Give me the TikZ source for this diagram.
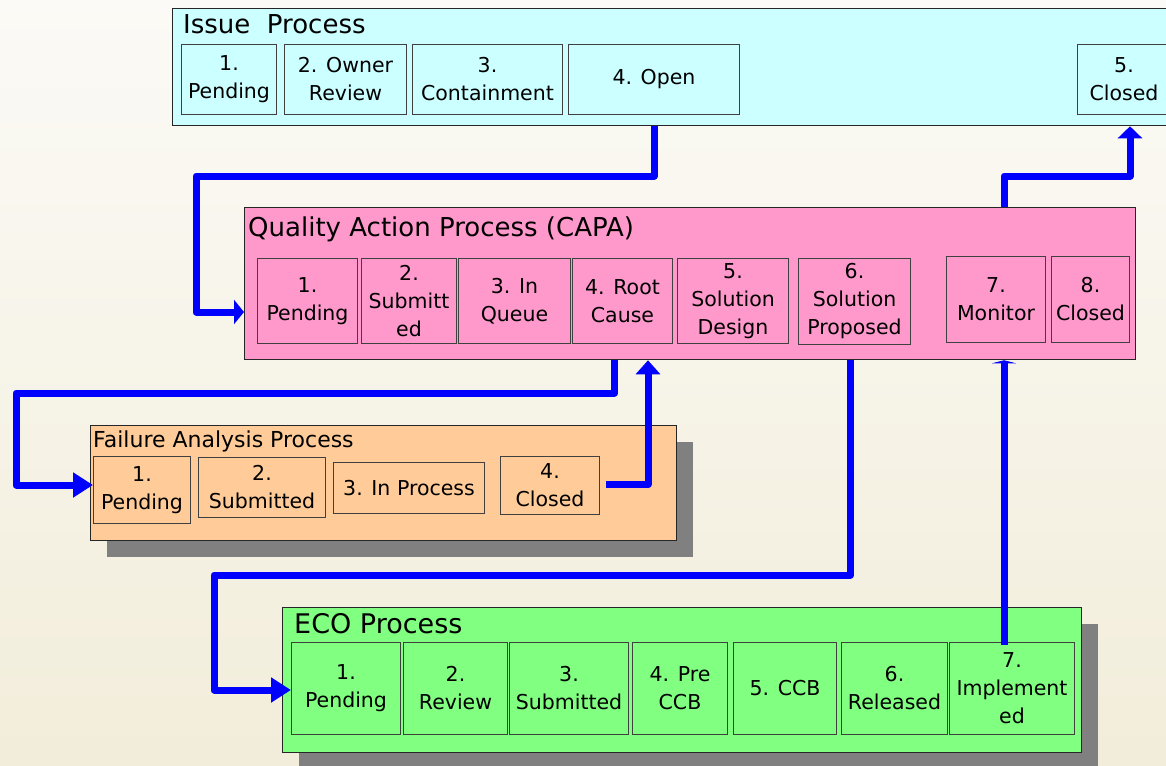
\documentclass[tikz,border=0pt]{standalone}
\usepackage{fontspec}
\setmainfont{DejaVu Sans}
\usetikzlibrary{arrows.meta,calc,shadows}

\definecolor{issuecyan}{HTML}{CCFFFF}
\definecolor{capapink}{HTML}{FF99CC}
\definecolor{fapeach}{HTML}{FFCC99}
\definecolor{ecogreen}{HTML}{80FF80}
\definecolor{flowblue}{HTML}{0000FF}
\definecolor{shadowgray}{HTML}{808080}
\definecolor{pagetop}{HTML}{FBFAF6}
\definecolor{pagebottom}{HTML}{F2EDDA}

\tikzset{
  proc/.style={draw=black!85, line width=1.3pt, anchor=north west, inner sep=0pt},
  stage/.style={draw=black!75, line width=1pt, anchor=north west, inner sep=0pt,
    align=center, font=\fontsize{20.5}{28}\selectfont},
  proctitle/.style={anchor=base west, inner sep=0pt, font=\fontsize{26}{31}\selectfont},
  hardshadow/.style={drop shadow={shadow xshift=16pt, shadow yshift=-16pt,
    fill=shadowgray, opacity=1}},
  flow/.style={draw=flowblue, line width=7pt, line join=round,
    -{Triangle[width=24pt,length=20pt]}},
}

\begin{document}
\begin{tikzpicture}[x=1pt,y=-1pt]
  \useasboundingbox (0,0) rectangle (1166,765);
  \shade[top color=pagetop, bottom color=pagebottom] (0,0) rectangle (1166,765);

  % issue process
  \node[proc, fill=issuecyan, minimum width=1003, minimum height=117] (iss) at (172,8) {};
  \node[proctitle] (issT) at (183,34) {Issue\ \ Process};
  \node[stage, fill=issuecyan, minimum width=95, minimum height=70] (iss1) at (181,44) {1.\\Pending};
  \node[stage, fill=issuecyan, minimum width=122, minimum height=70] (iss2) at (284,44) {2. Owner\\Review};
  \node[stage, fill=issuecyan, minimum width=150, minimum height=70] (iss3) at (412,44) {3.\\Containment};
  \node[stage, fill=issuecyan, minimum width=171, minimum height=70] (iss4) at (568,44) {4. Open};
  \node[stage, fill=issuecyan, minimum width=93, minimum height=70] (iss5) at (1077,44) {5.\\Closed};

  % CAPA
  \node[proc, fill=capapink, minimum width=891, minimum height=152] (capa) at (244,207) {};
  \node[proctitle] (capaT) at (248,236) {Quality Action Process (CAPA)};
  \node[stage, fill=capapink, minimum width=100, minimum height=85] (capa1) at (257,258) {1.\\Pending};
  \node[stage, fill=capapink, minimum width=95, minimum height=85] (capa2) at (361,258) {2.\\Submitt\\ed};
  \node[stage, fill=capapink, minimum width=112, minimum height=85] (capa3) at (458,258) {3. In\\Queue};
  \node[stage, fill=capapink, minimum width=100, minimum height=85] (capa4) at (572,258) {4. Root\\Cause};
  \node[stage, fill=capapink, minimum width=111, minimum height=85] (capa5) at (677,258) {5.\\Solution\\Design};
  \node[stage, fill=capapink, minimum width=112, minimum height=86] (capa6) at (798,258) {6.\\Solution\\Proposed};
  \node[stage, fill=capapink, minimum width=99, minimum height=86] (capa7) at (946,256) {7.\\Monitor};
  \node[stage, fill=capapink, minimum width=78, minimum height=86] (capa8) at (1051,256) {8.\\Closed};

  % failure analysis
  \node[proc, hardshadow, fill=fapeach, minimum width=586, minimum height=115] (fa) at (90,425) {};
  \node[proctitle, font=\fontsize{22}{26}\selectfont] (faT) at (93,447) {Failure Analysis Process};
  \node[stage, fill=fapeach, minimum width=97, minimum height=67] (fa1) at (93,456) {1.\\Pending};
  \node[stage, fill=fapeach, minimum width=127, minimum height=60] (fa2) at (198,457) {2.\\Submitted};
  \node[stage, fill=fapeach, minimum width=151, minimum height=51] (fa3) at (333,462) {3. In Process};
  \node[stage, fill=fapeach, minimum width=99, minimum height=58] (fa4) at (500,456) {4.\\Closed};

  % ECO
  \node[proc, hardshadow, fill=ecogreen, minimum width=799, minimum height=145] (eco) at (282,607) {};
  \node[proctitle, font=\fontsize{27}{32}\selectfont] (ecoT) at (294,633) {ECO Process};
  \node[stage, fill=ecogreen, minimum width=109, minimum height=92] (eco1) at (291,642) {1.\\Pending};
  \node[stage, fill=ecogreen, minimum width=104, minimum height=92] (eco2) at (403,642) {2.\\Review};
  \node[stage, fill=ecogreen, minimum width=119, minimum height=92] (eco3) at (509,642) {3.\\Submitted};
  \node[stage, fill=ecogreen, minimum width=95, minimum height=92] (eco4) at (632,642) {4. Pre\\CCB};
  \node[stage, fill=ecogreen, minimum width=103, minimum height=92] (eco5) at (733,642) {5. CCB};
  \node[stage, fill=ecogreen, minimum width=106, minimum height=92] (eco6) at (841,642) {6.\\Released};
  \node[stage, fill=ecogreen, minimum width=125, minimum height=92] (eco7) at (949,642) {7.\\Implement\\ed};
  \coordinate (implTop) at ($(eco7.north)+(-8,3)$);

  % flows between the processes
  \draw[flow, -{Triangle[width=24pt,length=10pt]}] (iss4.south |- iss.south) |- (196,176) |- (capa.west |- 0,312);
  \draw[flow] ($(capa4.south |- capa.south)+(-8,0)$) |- (16,393) |- (fa1.west |- 0,485);
  \draw[flow, -{Triangle[width=24pt,length=14pt]}] ($(fa4.east)+(6,-1)$) -| (capa.south -| 648,0);
  \draw[flow] ($(capa6.south |- capa.south)+(-4,0)$) |- (214,575) |- (eco1.west |- 0,690);
  \draw[flow, -{Triangle[width=24pt,length=3pt]}] (implTop) -- (implTop |- capa.south);
  \draw[flow, -{Triangle[width=24pt,length=12pt]}] (implTop |- capa.north) |- (1130,176) -- (iss.south -| 1130,0);
\end{tikzpicture}
\end{document}
